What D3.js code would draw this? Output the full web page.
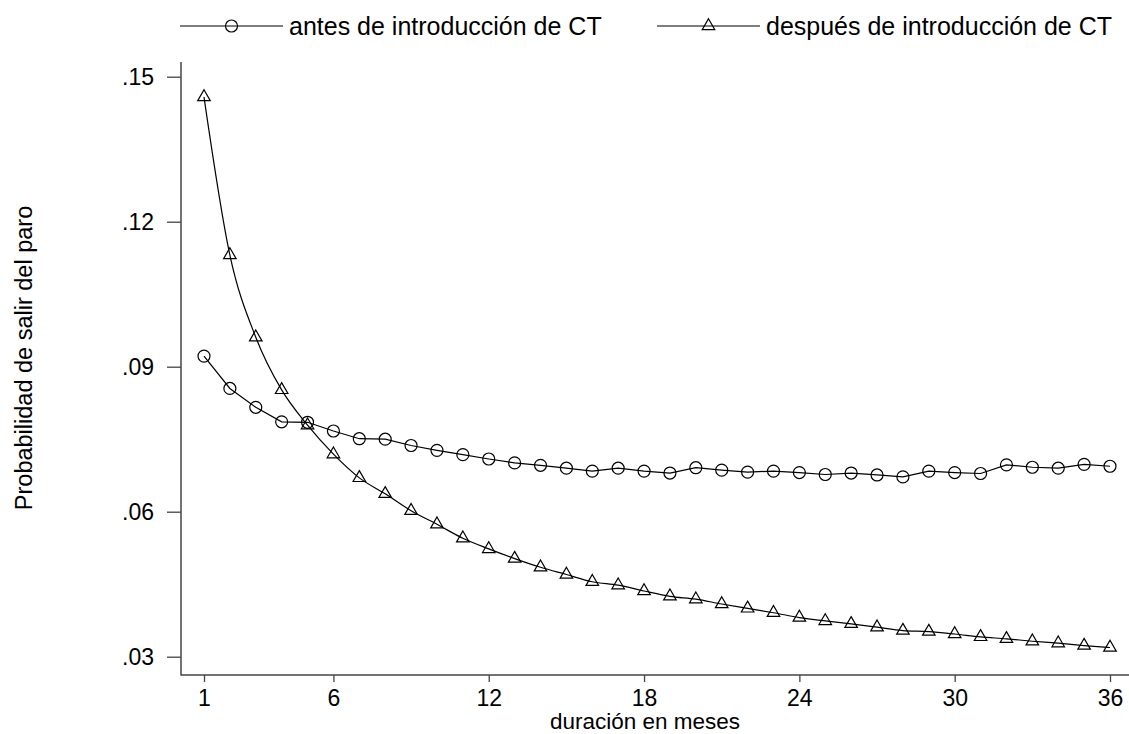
<!DOCTYPE html>
<html><head><meta charset="utf-8">
<script src="https://cdn.jsdelivr.net/npm/d3@7"></script>
<style>
html,body{margin:0;padding:0;background:#fff;}
svg text{font-family:"Liberation Sans",Arial,Helvetica,sans-serif;fill:#000;}
</style></head>
<body><svg id="c" width="1129" height="734"></svg>
<script>
const months = d3.range(1, 37);
const antes = [0.0922,0.0855,0.0816,0.0786,0.0785,0.0767,0.0751,0.0750,0.0737,0.0727,
  0.0718,0.0709,0.0701,0.0696,0.0690,0.0684,0.0690,0.0684,0.0680,0.0691,
  0.0686,0.0682,0.0684,0.0681,0.0677,0.0680,0.0676,0.0672,0.0684,0.0681,
  0.0679,0.0697,0.0692,0.0690,0.0698,0.0694];
const despues = [0.1458,0.1131,0.0961,0.0852,0.0779,0.0719,0.0670,0.0637,0.0602,0.0574,
  0.0545,0.0523,0.0503,0.0485,0.0470,0.0455,0.0448,0.0436,0.0425,0.0419,
  0.0409,0.0400,0.0391,0.0381,0.0374,0.0368,0.0361,0.0354,0.0352,0.0347,
  0.0341,0.0337,0.0332,0.0328,0.0323,0.0319];
const xTicks = [1, 6, 12, 18, 24, 30, 36];
const yTicks = [0.03, 0.06, 0.09, 0.12, 0.15];
const yTickLabels = [".03", ".06", ".09", ".12", ".15"];
const legendLabels = ["antes de introducción de CT", "después de introducción de CT"];

const svg = d3.select("#c");
const x = d3.scaleLinear().domain([1, 36]).range([204, 1110]);
const y = d3.scaleLinear().domain([0.03, 0.15]).range([656.7, 76.7]);
const axisColor = "#444";

// Y axis
const yAxis = d3.axisLeft(y).tickValues(yTicks).tickSize(14).tickPadding(13)
  .tickFormat((d, i) => yTickLabels[i]);
const gy = svg.append("g").attr("transform", "translate(181,0)").call(yAxis);
gy.select(".domain").remove();
gy.selectAll(".tick line").attr("stroke", axisColor).attr("stroke-width", 1.3);
gy.selectAll(".tick text").attr("font-size", 23).attr("dy", "0.36em").style("font-family", "Liberation Sans, Arial, sans-serif");
svg.append("line").attr("x1", 181).attr("x2", 181).attr("y1", 62).attr("y2", 675.5)
  .attr("stroke", axisColor).attr("stroke-width", 1.5);

// X axis
const xAxis = d3.axisBottom(x).tickValues(xTicks).tickSize(7).tickPadding(8).tickFormat(d3.format("d"));
const gx = svg.append("g").attr("transform", "translate(0,675)").call(xAxis);
gx.select(".domain").remove();
gx.selectAll(".tick line").attr("stroke", axisColor).attr("stroke-width", 1.3);
gx.selectAll(".tick text").attr("font-size", 23).style("font-family", "Liberation Sans, Arial, sans-serif");
svg.append("line").attr("x1", 181).attr("x2", 1129).attr("y1", 675).attr("y2", 675)
  .attr("stroke", axisColor).attr("stroke-width", 1.5);

// Titles
svg.append("text").attr("x", 645).attr("y", 729).attr("text-anchor", "middle")
  .attr("font-size", 22.5).text("duración en meses");
svg.append("text").attr("transform", "translate(32,358) rotate(-90)").attr("text-anchor", "middle")
  .attr("font-size", 23.5).text("Probabilidad de salir del paro");

// Lines
const lineA = d3.line().x((d, i) => x(months[i])).y(d => y(d));
const lineD = d3.line().x((d, i) => x(months[i])).y(d => y(d)).curve(d3.curveMonotoneX);
svg.append("path").attr("d", lineA(antes)).attr("fill", "none").attr("stroke", "#000").attr("stroke-width", 1.2);
svg.append("path").attr("d", lineD(despues)).attr("fill", "none").attr("stroke", "#000").attr("stroke-width", 1.2);

const tri = d3.symbol().type(d3.symbolTriangle).size(68);
function circleMark(g, cx, cy) {
  g.append("circle").attr("cx", cx).attr("cy", cy).attr("r", 6)
    .attr("fill", "none").attr("stroke", "#000").attr("stroke-width", 1.2);
}
function triMark(g, cx, cy) {
  g.append("path").attr("d", tri()).attr("transform", `translate(${cx},${cy})`)
    .attr("fill", "none").attr("stroke", "#000").attr("stroke-width", 1.2);
}
const gm = svg.append("g");
antes.forEach((v, i) => circleMark(gm, x(months[i]), y(v)));
despues.forEach((v, i) => triMark(gm, x(months[i]), y(v)));

// Legend
const lg = svg.append("g");
const legendItems = [
  {x1: 180, x2: 283, label: legendLabels[0], mark: circleMark},
  {x1: 657, x2: 760, label: legendLabels[1], mark: triMark}
];
legendItems.forEach(it => {
  lg.append("line").attr("x1", it.x1).attr("x2", it.x2).attr("y1", 26).attr("y2", 26)
    .attr("stroke", "#555").attr("stroke-width", 1.3);
  it.mark(lg, (it.x1 + it.x2) / 2, 26);
  lg.append("text").attr("x", it.x2 + 6).attr("y", 35).attr("font-size", 25).text(it.label);
});
</script></body></html>
